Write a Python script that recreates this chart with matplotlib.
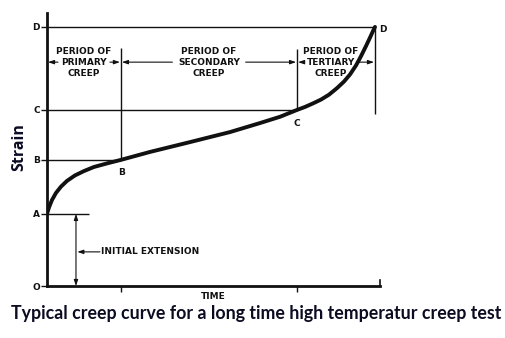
import numpy as np
import matplotlib
matplotlib.use("Agg")
import matplotlib.pyplot as plt

# curve points (time, strain in arbitrary units)
tiempo = [0, 0.6, 1.5, 2.7, 4.2, 6.0, 8.4, 11.1, 14.1, 18.0, 22.2,
          30.9, 42.9, 55.0, 64.0, 70.0, 75.1,
          77.5, 79.9, 82.3, 84.7, 87.1, 89.2, 91.0, 92.8, 94.3, 95.8, 97.0, 97.9, 98.5]
deformacion = [26.4, 28.8, 31.5, 34.1, 36.4, 38.5, 40.5, 42.1, 43.6, 44.9, 46.2,
               49.1, 52.7, 56.4, 59.7, 62.0, 64.5,
               65.6, 66.9, 68.3, 70.1, 72.5, 74.9, 77.5, 80.8, 84.2, 87.9, 91.0, 93.4, 94.9]

# named points of the curve
puntos = ["A", "B", "C", "D"]
t_puntos = [0, 22.2, 75.1, 98.5]
s_puntos = [26.4, 46.2, 64.5, 94.9]

periodos = ["PERIOD OF\nPRIMARY\nCREEP", "PERIOD OF\nSECONDARY\nCREEP", "PERIOD OF\nTERTIARY\nCREEP"]
semiancho = [7.8, 11.0, 8.0]

tinta = "#111111"
azul = "#0b0b22"
fs = 6.5

fig = plt.figure(figsize=(5.06, 3.38), dpi=100)
ax = fig.add_axes([47/506, 52/338, 333/506, 273/338])
ax.set_xlim(0, 100)
ax.set_ylim(0, 100)

for lado in ["top", "right"]:
    ax.spines[lado].set_visible(False)
for lado in ["left", "bottom"]:
    ax.spines[lado].set_linewidth(2)
    ax.spines[lado].set_color(tinta)

# y ticks as letters
ax.set_yticks([0] + s_puntos)
ax.set_yticklabels(["O"] + puntos, fontsize=fs, fontweight="bold", color=tinta)
ax.set_xticks(t_puntos[1:3])
ax.set_xticklabels([])
ax.tick_params(length=4, width=1, color=tinta, pad=1)
ax.set_xlabel("TIME", fontsize=fs, fontweight="bold", color=tinta, labelpad=-1)

tA, tB, tC, tD = t_puntos
sA, sB, sC, sD = s_puntos

# reference lines
ax.hlines(sD, 0, tD, color=tinta, lw=1)
ax.hlines(sC, 0, tC, color=tinta, lw=1)
ax.hlines(sB, 0, tB, color=tinta, lw=1)
ax.hlines(sA, 0, 12.6, color=tinta, lw=1)
ax.vlines(tB, sB, 87.2, color=tinta, lw=1)
ax.vlines(tC, sC, 86.8, color=tinta, lw=1)
ax.vlines(tD, 63.0, sD, color=tinta, lw=1)

# the creep curve
ax.plot(tiempo, deformacion, color=tinta, lw=2.8, solid_capstyle="round",
        solid_joinstyle="round")

# point labels
ax.text(tB + 0.3, sB - 3, "B", fontsize=fs, fontweight="bold", color=tinta, ha="center", va="top")
ax.text(tC, sC - 3.5, "C", fontsize=fs, fontweight="bold", color=tinta, ha="center", va="top")
ax.text(tD + 1.2, sD - 1, "D", fontsize=fs, fontweight="bold", color=tinta, ha="left", va="center")

# period labels with arrows
y_flecha = 82.0
limites = [0, tB, tC, tD]
flecha = dict(arrowstyle="-|>,head_length=0.35,head_width=0.12", color=tinta, lw=0.8,
              shrinkA=0, shrinkB=0)
for i, txt in enumerate(periodos):
    izq, der = limites[i], limites[i + 1]
    centro = (izq + der) / 2
    if i == 2:
        centro -= 1.5
    ax.text(centro, y_flecha, txt, fontsize=fs, fontweight="bold", color=tinta,
            ha="center", va="center", linespacing=1.3)
    ax.annotate("", xy=(izq + 0.3, y_flecha), xytext=(centro - semiancho[i], y_flecha), arrowprops=flecha)
    ax.annotate("", xy=(der - 0.3, y_flecha), xytext=(centro + semiancho[i], y_flecha), arrowprops=flecha)

# initial extension
t_ini = 8.7
ax.annotate("", xy=(t_ini, sA), xytext=(t_ini, 0),
            arrowprops=dict(arrowstyle="<|-|>,head_length=0.35,head_width=0.12", color=tinta, lw=0.8,
                            shrinkA=0, shrinkB=0))
ax.annotate("", xy=(t_ini + 0.4, 12.5), xytext=(15.9, 12.5), arrowprops=flecha)
ax.text(16.2, 12.5, "INITIAL EXTENSION", fontsize=fs, fontweight="bold", color=tinta,
        ha="left", va="center")

# end tick on the time axis
ax.plot([100, 100], [0, 2.2], color=tinta, lw=1.2, clip_on=False)

fig.text(19/506, 1 - 147/338, "Strain", rotation=90, fontsize=11.5, fontweight="bold",
         color=azul, ha="center", va="center", family=["Open Sans", "DejaVu Sans"])
fig.text(256/506, 1 - 313/338, "Typical creep curve for a long time high temperatur creep test",
         fontsize=12.8, fontweight="bold", color=azul, ha="center", va="center",
         family=["Lato", "DejaVu Sans"])

fig.savefig("out.png", dpi=100)
